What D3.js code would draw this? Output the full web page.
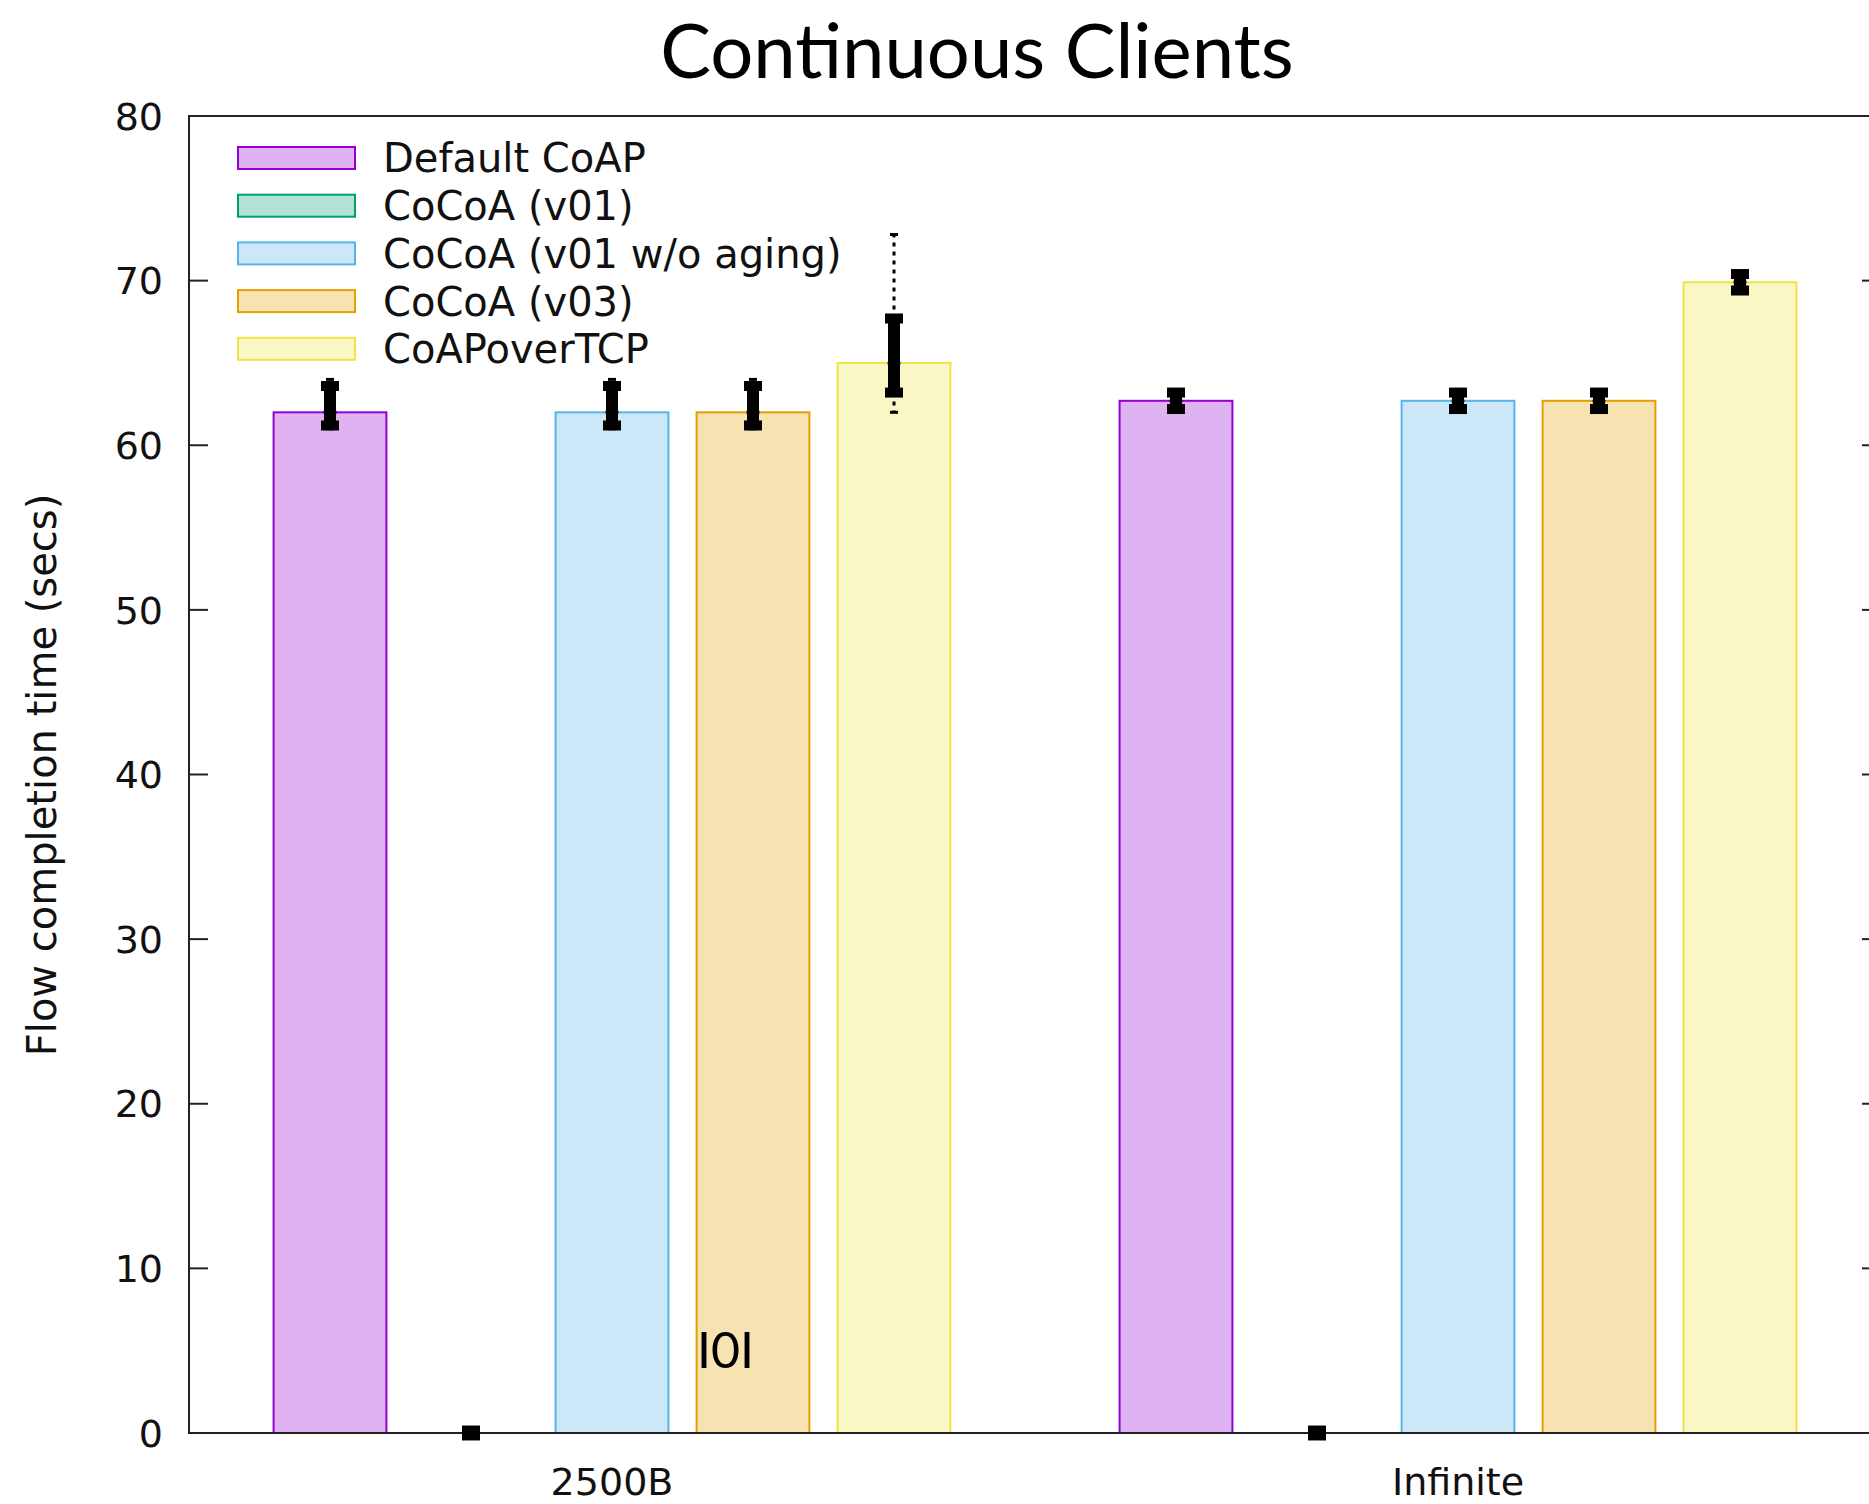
<!DOCTYPE html>
<html><head><meta charset="utf-8">
<script src="https://cdn.jsdelivr.net/npm/d3@7"></script>
<style>body{margin:0;background:#fff;} svg{display:block;}</style>
</head><body>
<svg id="c" width="1869" height="1504"></svg>
<script>
const categories = ["2500B", "Infinite"];
const seriesNames = ["Default CoAP", "CoCoA (v01)", "CoCoA (v01 w/o aging)", "CoCoA (v03)", "CoAPoverTCP"];
const seriesColors = ["#9400d3", "#009e73", "#56b4e9", "#e69f00", "#f0e442"];
// mean values per series: [2500B, Infinite]
const defaultCoap = [62.0, 62.7];
const cocoaV01 = [0, 0];
const cocoaV01NoAging = [62.0, 62.7];
const cocoaV03 = [62.0, 62.7];
const coapOverTcp = [65.0, 69.9];
// error ranges (thick part) low/high
const errLow = [[61.2, 62.2], [-0.15, -0.15], [61.2, 62.2], [61.2, 62.2], [63.2, 69.4]];
const errHigh = [[63.6, 63.2], [0.15, 0.15], [63.6, 63.2], [63.6, 63.2], [67.7, 70.4]];
// whisker (dotted) min/max
const whiskLow = [[61.0, 62.2], [-0.15, -0.15], [61.0, 62.2], [61.0, 62.2], [62.0, 69.4]];
const whiskHigh = [[64.0, 63.2], [0.15, 0.15], [64.0, 63.2], [64.0, 63.2], [72.8, 70.4]];
const yTicks = [0, 10, 20, 30, 40, 50, 60, 70, 80];
const titleText = "Continuous Clients";
const yLabel = "Flow completion time (secs)";
const annotation = "I0I";

const values = [defaultCoap, cocoaV01, cocoaV01NoAging, cocoaV03, coapOverTcp];

const svg = d3.select("#c");
const L = 189, R = 1881, T = 116, B = 1433;
const x = d3.scaleLinear().domain([-1, 11]).range([L, R]);
const y = d3.scaleLinear().domain([0, 80]).range([B, T]);
const slot = (g, i) => g * 6 + i;
const bw = 0.8;
const font = "'DejaVu Sans', sans-serif";

// bars
const bars = [];
values.forEach((vals, i) => vals.forEach((v, g) => bars.push({i, g, v})));
svg.append("g").selectAll("rect").data(bars).join("rect")
  .attr("x", d => x(slot(d.g, d.i) - bw / 2))
  .attr("width", d => x(bw) - x(0))
  .attr("y", d => y(d.v))
  .attr("height", d => y(0) - y(d.v))
  .attr("fill", d => seriesColors[d.i]).attr("fill-opacity", 0.3)
  .attr("stroke", d => seriesColors[d.i]).attr("stroke-width", 2);

// frame
svg.append("rect").attr("x", L).attr("y", T).attr("width", R - L).attr("height", B - T)
  .attr("fill", "none").attr("stroke", "#222").attr("stroke-width", 2);

// y ticks
const yAxis = svg.append("g");
yTicks.forEach(t => {
  yAxis.append("line").attr("x1", L).attr("x2", L + 19).attr("y1", y(t)).attr("y2", y(t)).attr("stroke", "#222").attr("stroke-width", 2);
  yAxis.append("line").attr("x1", R - 19).attr("x2", R).attr("y1", y(t)).attr("y2", y(t)).attr("stroke", "#222").attr("stroke-width", 2);
  yAxis.append("text").attr("x", 163).attr("y", y(t)).attr("dy", "0.36em")
    .attr("text-anchor", "end").attr("font-family", font).attr("font-size", 38).attr("fill", "#111").text(t);
});

// error bars
const eg = svg.append("g");
bars.forEach(d => {
  const cx = x(slot(d.g, d.i));
  const lo = errLow[d.i][d.g], hi = errHigh[d.i][d.g];
  const wl = whiskLow[d.i][d.g], wh = whiskHigh[d.i][d.g];
  if (wh > hi + 0.3) {
    eg.append("line").attr("x1", cx).attr("x2", cx).attr("y1", y(hi)).attr("y2", y(wh))
      .attr("stroke", "#000").attr("stroke-width", 3).attr("stroke-dasharray", "4,5");
    eg.append("line").attr("x1", cx - 4).attr("x2", cx + 4).attr("y1", y(wh)).attr("y2", y(wh)).attr("stroke", "#000").attr("stroke-width", 3);
  }
  if (wl < lo - 0.1) {
    eg.append("line").attr("x1", cx).attr("x2", cx).attr("y1", y(lo)).attr("y2", y(wl))
      .attr("stroke", "#000").attr("stroke-width", 3).attr("stroke-dasharray", "4,5");
    eg.append("line").attr("x1", cx - 4).attr("x2", cx + 4).attr("y1", y(wl)).attr("y2", y(wl)).attr("stroke", "#000").attr("stroke-width", 3);
  }
  eg.append("line").attr("x1", cx).attr("x2", cx).attr("y1", y(lo)).attr("y2", y(hi))
    .attr("stroke", "#000").attr("stroke-width", 12);
  [lo, hi].forEach(v => eg.append("rect").attr("x", cx - 9).attr("y", y(v) - 5).attr("width", 18).attr("height", 10).attr("fill", "#000"));
  eg.append("circle").attr("cx", cx).attr("cy", y(d.v)).attr("r", 6.5).attr("fill", "#000");
});

// legend
const lg = svg.append("g");
seriesNames.forEach((n, i) => {
  const cy = 158 + i * 47.7;
  lg.append("rect").attr("x", 238).attr("y", cy - 11).attr("width", 117).attr("height", 22)
    .attr("fill", seriesColors[i]).attr("fill-opacity", 0.3).attr("stroke", seriesColors[i]).attr("stroke-width", 2);
  lg.append("text").attr("x", 383).attr("y", cy).attr("dy", "0.36em")
    .attr("font-family", font).attr("font-size", 40).attr("fill", "#111").text(n);
});

// category labels
categories.forEach((c, g) => {
  svg.append("text").attr("x", x(slot(g, 2))).attr("y", 1495).attr("text-anchor", "middle")
    .attr("font-family", font).attr("font-size", 38).attr("fill", "#111").text(c);
});

// y label
svg.append("text").attr("transform", "translate(56,775) rotate(-90)").attr("text-anchor", "middle")
  .attr("font-family", font).attr("font-size", 40).attr("fill", "#111").text(yLabel);

// title
svg.append("text").attr("x", 977).attr("y", 78).attr("text-anchor", "middle")
  .attr("font-family", "Lato, 'Open Sans', sans-serif").attr("font-size", 76).attr("fill", "#000").text(titleText);

// annotation
svg.append("text").attr("x", 697).attr("y", 1368)
  .attr("font-family", "Lato, 'Open Sans', sans-serif").attr("font-size", 50).attr("fill", "#000").text(annotation);
</script>
</body></html>
